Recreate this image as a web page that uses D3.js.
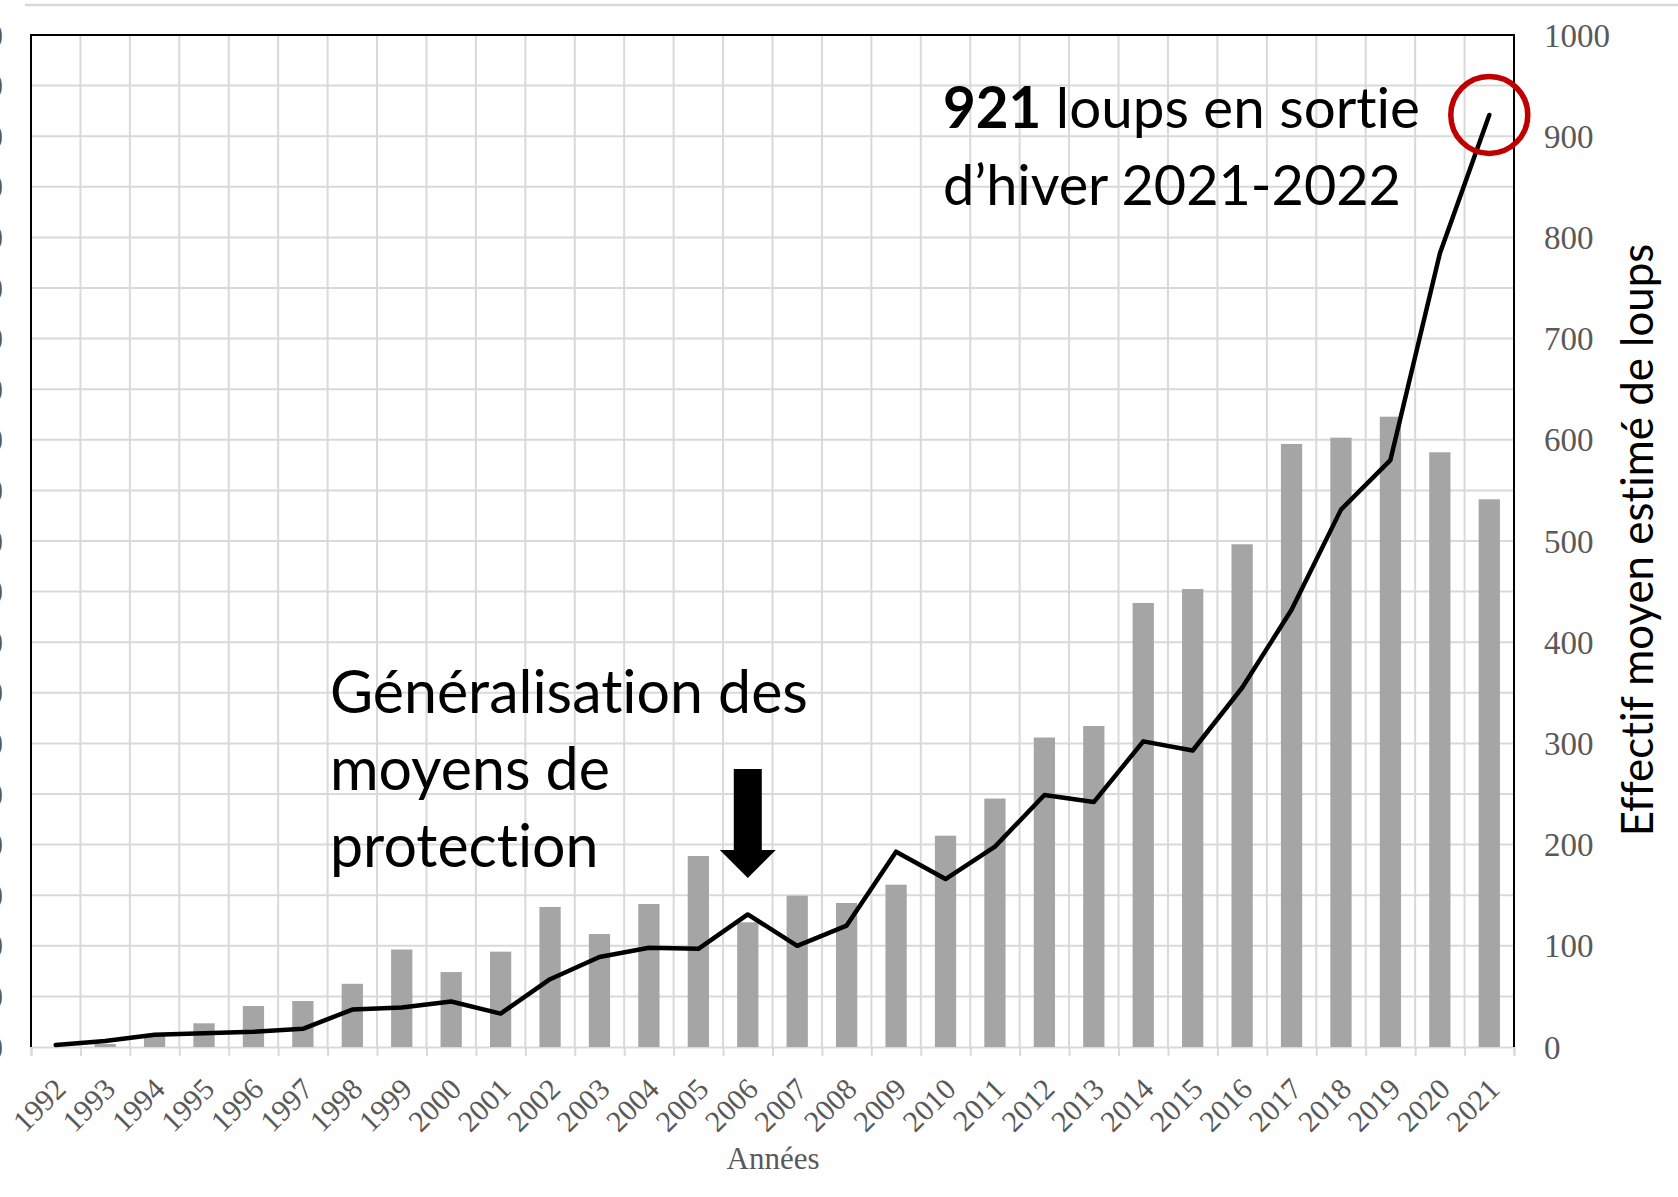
<!DOCTYPE html>
<html>
<head>
<meta charset="utf-8">
<script src="https://cdn.jsdelivr.net/npm/d3@7"></script>
<style>
  body { margin: 0; background: #fff; }
  svg { display: block; }
  text { font-variant-ligatures: none; font-feature-settings: "liga" 0, "clig" 0; }
</style>
</head>
<body>
<svg id="chart"></svg>
<script>
// years on the x axis
var years = ["1992","1993","1994","1995","1996","1997","1998","1999","2000","2001",
             "2002","2003","2004","2005","2006","2007","2008","2009","2010","2011",
             "2012","2013","2014","2015","2016","2017","2018","2019","2020","2021"];

// grey bars, left axis (hidden, cut off at the page edge)
var victims = [0, 60, 250, 468, 810, 909, 1249, 1926, 1481, 1884,
               2767, 2233, 2826, 3775, 2464, 2990, 2846, 3208, 4176, 4910,
               6116, 6344, 8775, 9051, 9935, 11917, 12042, 12457, 11753, 10824];

// black line, right axis : estimated wolf population
var wolves = [2, 6, 12, 13.5, 15, 18, 37, 39, 45, 33,
              67, 89, 98, 97, 131, 100, 120, 193, 166, 198,
              249, 242, 302, 293, 355, 432, 531, 580, 784, 921];

var rightTicks = [0, 100, 200, 300, 400, 500, 600, 700, 800, 900, 1000];
var leftTicks = [0, 1000, 2000, 3000, 4000, 5000, 6000, 7000, 8000, 9000, 10000,
                 11000, 12000, 13000, 14000, 15000, 16000, 17000, 18000, 19000, 20000];

var W = 1678, H = 1197;
var m = { left: 31, right: 164, top: 35, bottom: 150 };
var x0 = m.left, x1 = W - m.right, y0 = H - m.bottom, y1 = m.top;

var svg = d3.select("#chart").attr("width", W).attr("height", H);

var x = d3.scaleBand().domain(years).range([x0, x1]);
var xi = d3.scaleLinear().domain([0, years.length]).range([x0, x1]);
var yL = d3.scaleLinear().domain([0, 20000]).range([y0, y1]);
var yR = d3.scaleLinear().domain([0, 1000]).range([y0, y1]);

var serif = "'Liberation Serif', 'Times New Roman', serif";
var sans = "Lato, 'Noto Sans', sans-serif";
var grid = "#d9d9d9";
var tickGrey = "#595959";

// thin grey rule at the top of the page
svg.append("line")
    .attr("x1", 25).attr("x2", W).attr("y1", 5).attr("y2", 5)
    .style("stroke", grid).style("stroke-width", 2.5);

// horizontal grid (left axis)
svg.append("g").selectAll("line")
    .data(leftTicks.slice(1, -1))
    .enter().append("line")
    .attr("x1", x0).attr("x2", x1)
    .attr("y1", function (d) { return yL(d); })
    .attr("y2", function (d) { return yL(d); })
    .style("stroke", grid).style("stroke-width", 2);

// vertical grid at band boundaries
svg.append("g").selectAll("line")
    .data(d3.range(1, years.length))
    .enter().append("line")
    .attr("x1", function (d) { return xi(d); })
    .attr("x2", function (d) { return xi(d); })
    .attr("y1", y1).attr("y2", y0)
    .style("stroke", grid).style("stroke-width", 2);

// x axis baseline + ticks
var gX = svg.append("g")
    .attr("transform", "translate(0," + y0 + ")")
    .call(d3.axisBottom(xi).tickValues(d3.range(0, years.length + 1)).tickSize(9).tickFormat(""));
gX.selectAll("path, line").style("stroke", grid).style("stroke-width", 2);

// bars
var bw = x.bandwidth() * 0.43;
svg.append("g").selectAll("rect")
    .data(victims)
    .enter().append("rect")
    .attr("x", function (d, i) { return x(years[i]) + (x.bandwidth() - bw) / 2; })
    .attr("y", function (d) { return yL(d); })
    .attr("width", bw)
    .attr("height", function (d) { return y0 - yL(d); })
    .style("fill", "#a5a5a5");

// frame (top, left, right)
svg.append("path")
    .attr("d", "M" + x0 + "," + y0 + "V" + y1 + "H" + x1 + "V" + y0)
    .style("fill", "none").style("stroke", "#000").style("stroke-width", 2);

// population line
var line = d3.line()
    .x(function (d, i) { return x(years[i]) + x.bandwidth() / 2; })
    .y(function (d) { return yR(d); });
svg.append("path")
    .attr("d", line(wolves))
    .style("fill", "none").style("stroke", "#000")
    .style("stroke-width", 4.5).style("stroke-linejoin", "round").style("stroke-linecap", "round");

// right axis labels
svg.append("g").selectAll("text")
    .data(rightTicks)
    .enter().append("text")
    .attr("x", 1544)
    .attr("y", function (d) { return yR(d); })
    .attr("dy", "0.35em")
    .style("font-family", serif).style("font-size", "33px").style("fill", tickGrey)
    .text(function (d) { return d; });

// left axis labels, mostly outside the page
svg.append("g").selectAll("text")
    .data(leftTicks)
    .enter().append("text")
    .attr("x", 3)
    .attr("y", function (d) { return yL(d); })
    .attr("dy", "0.35em")
    .attr("text-anchor", "end")
    .style("font-family", serif).style("font-size", "33px").style("fill", tickGrey)
    .text(function (d) { return d; });

// x tick labels
svg.append("g").selectAll("text")
    .data(years)
    .enter().append("text")
    .attr("transform", function (d) {
        return "translate(" + (x(d) + x.bandwidth() / 2 + 12) + "," + (y0 + 44) + ") rotate(-45)";
    })
    .attr("text-anchor", "end")
    .style("font-family", serif).style("font-size", "30px").style("fill", tickGrey)
    .text(function (d) { return d; });

svg.append("text")
    .attr("x", 773).attr("y", 1158).attr("dy", "0.35em")
    .attr("text-anchor", "middle")
    .style("font-family", serif).style("font-size", "31px").style("fill", tickGrey)
    .text("Années");

// helper: scale font so text spans a given width
function fit(t, width) {
    var s = parseFloat(t.style("font-size"));
    var len = t.node().getComputedTextLength();
    t.style("font-size", (s * width / len) + "px");
}

// right axis title
var yTitle = svg.append("text")
    .attr("transform", "translate(1653,540) rotate(-90)")
    .attr("text-anchor", "middle")
    .style("font-family", sans).style("font-size", "38px").style("fill", "#000")
    .text("Effectif moyen estimé de loups");
fit(yTitle, 593);

// annotation top right
var a1 = svg.append("text")
    .attr("x", 943).attr("y", 128)
    .style("font-family", sans).style("font-size", "60px").style("fill", "#000");
a1.append("tspan").style("font-weight", "bold").text("921");
a1.append("tspan").text(" loups en sortie");
fit(a1, 477);
var a2 = svg.append("text")
    .attr("x", 943).attr("y", 205)
    .style("font-family", sans).style("font-size", "60px").style("fill", "#000")
    .text("d\u2019hiver 2021-2022");
fit(a2, 458);

// red circle on the last point
svg.append("circle")
    .attr("cx", x("2021") + x.bandwidth() / 2)
    .attr("cy", yR(921))
    .attr("r", 38.5)
    .style("fill", "none").style("stroke", "#c00000").style("stroke-width", 5.5);

// annotation middle
var notes = ["Généralisation des", "moyens de", "protection"];
var g2 = svg.append("g");
var n1 = g2.append("text")
    .attr("x", 330).attr("y", 713)
    .style("font-family", sans).style("font-size", "60px").style("fill", "#000")
    .text(notes[0]);
fit(n1, 478);
var fs = n1.style("font-size");
g2.selectAll("text.more")
    .data(notes.slice(1))
    .enter().append("text")
    .attr("class", "more")
    .attr("x", 330)
    .attr("y", function (d, i) { return 713 + 77 * (i + 1); })
    .style("font-family", sans).style("font-size", fs).style("fill", "#000")
    .text(function (d) { return d; });

// down arrow over 2006
var ax = x("2006") + x.bandwidth() / 2;
svg.append("path")
    .attr("d", "M" + (ax - 14) + ",769H" + (ax + 14) + "V850H" + (ax + 28) +
               "L" + ax + ",878L" + (ax - 28) + ",850H" + (ax - 14) + "Z")
    .style("fill", "#000");
</script>
</body>
</html>
